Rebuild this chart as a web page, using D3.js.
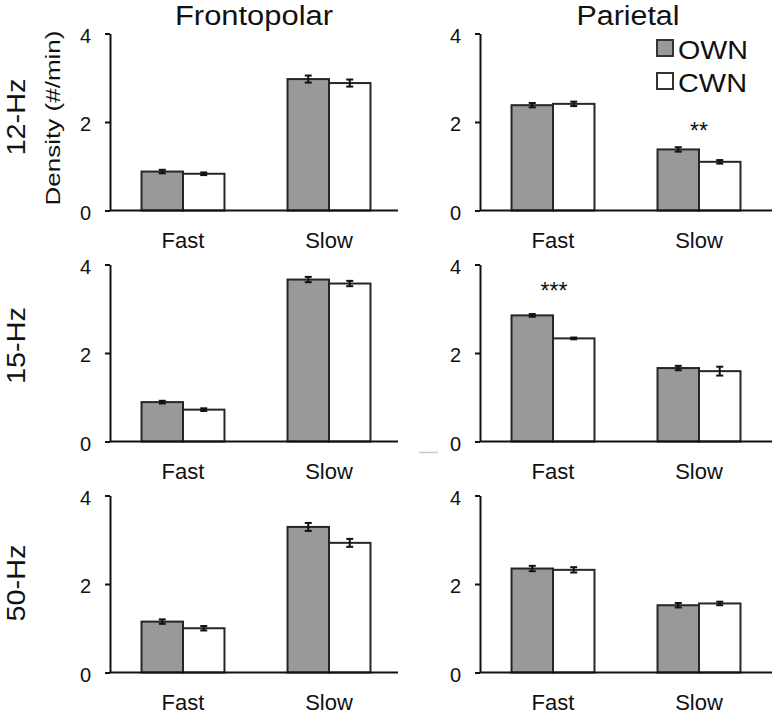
<!DOCTYPE html>
<html>
<head>
<meta charset="utf-8">
<script src="https://cdn.jsdelivr.net/npm/d3@7"></script>
<style>
  html, body { margin: 0; padding: 0; background: #fff; }
  svg { display: block; font-family: "Liberation Sans", Arial, Helvetica, sans-serif; }
</style>
</head>
<body>
<svg id="chart" width="774" height="714"></svg>
<script>
// ---------- data ----------
const categories = ["Fast", "Slow"];
const series = ["OWN", "CWN"];
const rowLabels = ["12-Hz", "15-Hz", "50-Hz"];
const colLabels = ["Frontopolar", "Parietal"];
const yTicks = [0, 2, 4];

// values [row][category]
const frontopolarOWN = [[0.88, 2.97], [0.89, 3.66], [1.15, 3.29]];
const frontopolarCWN = [[0.83, 2.88], [0.72, 3.57], [1.00, 2.93]];
const parietalOWN    = [[2.38, 1.38], [2.85, 1.66], [2.35, 1.52]];
const parietalCWN    = [[2.41, 1.10], [2.33, 1.59], [2.32, 1.56]];

// error (SEM) [row][category]
const frontopolarOWNErr = [[0.04, 0.08], [0.03, 0.06], [0.05, 0.09]];
const frontopolarCWNErr = [[0.03, 0.08], [0.03, 0.06], [0.05, 0.09]];
const parietalOWNErr    = [[0.05, 0.05], [0.03, 0.05], [0.06, 0.05]];
const parietalCWNErr    = [[0.05, 0.04], [0.02, 0.10], [0.06, 0.04]];

// significance markers
const sigMarks = [
  { row: 0, col: 1, category: "Slow", text: "**" },
  { row: 1, col: 1, category: "Fast", text: "***" }
];

// ---------- layout ----------
const svg = d3.select("#chart");
const colors = { OWN: "#999999", CWN: "#ffffff" };
const strokeCol = "#262626";
const axisX = [110, 480];
const zeroY = [210.5, 441.5, 672.5];
const plotH = 177;
const bandW = 292;

const panelData = [
  [frontopolarOWN, frontopolarCWN, frontopolarOWNErr, frontopolarCWNErr],
  [parietalOWN, parietalCWN, parietalOWNErr, parietalCWNErr]
];

const x0 = d3.scaleBand().domain(categories).range([0, bandW]).padding(0);
const x1 = d3.scaleBand().domain(series).range([0, x0.bandwidth()])
  .paddingInner(0).paddingOuter(0.76);

colLabels.forEach((cl, c) => {
  rowLabels.forEach((rl, r) => {
    const y = d3.scaleLinear().domain([0, 4]).range([zeroY[r], zeroY[r] - plotH]);
    const g = svg.append("g").attr("transform", `translate(${axisX[c]},0)`);
    const [own, cwn, ownE, cwnE] = panelData[c];

    // bars
    categories.forEach((cat, k) => {
      const vals = { OWN: own[r][k], CWN: cwn[r][k] };
      const errs = { OWN: ownE[r][k], CWN: cwnE[r][k] };
      series.forEach(s => {
        const bx = x0(cat) + x1(s);
        g.append("rect")
          .attr("x", bx)
          .attr("y", y(vals[s]))
          .attr("width", x1.bandwidth())
          .attr("height", y(0) - y(vals[s]))
          .attr("fill", colors[s])
          .attr("stroke", strokeCol)
          .attr("stroke-width", 2);
        const cx = bx + x1.bandwidth() / 2;
        const eg = g.append("g").attr("stroke", "#111").attr("stroke-width", 2);
        eg.append("line").attr("x1", cx).attr("x2", cx)
          .attr("y1", y(vals[s] - errs[s])).attr("y2", y(vals[s] + errs[s]));
        eg.append("line").attr("x1", cx - 3.5).attr("x2", cx + 3.5)
          .attr("y1", y(vals[s] - errs[s])).attr("y2", y(vals[s] - errs[s]));
        eg.append("line").attr("x1", cx - 3.5).attr("x2", cx + 3.5)
          .attr("y1", y(vals[s] + errs[s])).attr("y2", y(vals[s] + errs[s]));
      });
      // category label
      g.append("text")
        .attr("x", x0(cat) + x0.bandwidth() / 2)
        .attr("y", zeroY[r] + 37)
        .attr("text-anchor", "middle")
        .attr("font-size", 22)
        .attr("fill", "#111")
        .text(cat);
    });

    // y axis
    const ay = g.append("g").call(
      d3.axisLeft(y).tickValues(yTicks).tickSize(5).tickSizeOuter(0).tickPadding(14).tickFormat(d3.format("d"))
    );
    ay.select(".domain").attr("stroke", "#111").attr("stroke-width", 2);
    ay.selectAll(".tick line").attr("stroke", "#111").attr("stroke-width", 2);
    ay.selectAll(".tick text").attr("font-size", 20).attr("fill", "#111")
      .attr("font-family", "'Liberation Sans', Arial, sans-serif").attr("dy", "0.44em");

    // x axis baseline
    g.append("line")
      .attr("x1", 0).attr("x2", c === 0 ? 288 : bandW)
      .attr("y1", y(0)).attr("y2", y(0))
      .attr("stroke", "#111").attr("stroke-width", 2);

    // significance
    sigMarks.filter(m => m.row === r && m.col === c).forEach(m => {
      const top = Math.max(own[r][categories.indexOf(m.category)], cwn[r][categories.indexOf(m.category)]);
      g.append("text")
        .attr("x", x0(m.category) + x0.bandwidth() / 2 + (m.text.length === 2 ? 0 : 1))
        .attr("y", m.text.length === 2 ? y(top) - 10 : y(top) - 16)
        .attr("text-anchor", "middle")
        .attr("font-size", 23)
        .attr("fill", "#111")
        .text(m.text);
    });
  });
});

// column titles
const titleX = [254, 628];
const titleW = [158, 103];
colLabels.forEach((t, c) => {
  svg.append("text")
    .attr("x", titleX[c]).attr("y", 25)
    .attr("text-anchor", "middle")
    .attr("font-size", 27)
    .attr("textLength", titleW[c]).attr("lengthAdjust", "spacingAndGlyphs")
    .attr("fill", "#111")
    .text(t);
});

// row labels
const rowCenter = [117, 345.5, 583];
rowLabels.forEach((t, r) => {
  svg.append("text")
    .attr("transform", `translate(25,${rowCenter[r]}) rotate(-90)`)
    .attr("text-anchor", "middle")
    .attr("font-size", 25)
    .attr("textLength", 77).attr("lengthAdjust", "spacingAndGlyphs")
    .attr("fill", "#111")
    .text(t);
});

// y axis title
svg.append("text")
  .attr("transform", "translate(60,118) rotate(-90)")
  .attr("text-anchor", "middle")
  .attr("font-size", 19.5)
  .attr("textLength", 175).attr("lengthAdjust", "spacingAndGlyphs")
  .attr("fill", "#111")
  .text("Density (#/min)");

// legend
const leg = svg.append("g").attr("transform", "translate(657,40)");
series.forEach((s, i) => {
  leg.append("rect")
    .attr("x", 0).attr("y", i * 33)
    .attr("width", 16).attr("height", 16)
    .attr("fill", colors[s]).attr("stroke", "#333").attr("stroke-width", 2);
  leg.append("text")
    .attr("x", 21).attr("y", 19 + i * 32.5)
    .attr("font-size", 26)
    .attr("textLength", i === 0 ? 70 : 69).attr("lengthAdjust", "spacingAndGlyphs")
    .attr("fill", "#111")
    .text(s);
});

// faint stray mark present in the original figure
svg.append("line")
  .attr("x1", 419).attr("x2", 438).attr("y1", 452.5).attr("y2", 452.5)
  .attr("stroke", "#c8c8c8").attr("stroke-width", 1.5);
</script>
</body>
</html>
